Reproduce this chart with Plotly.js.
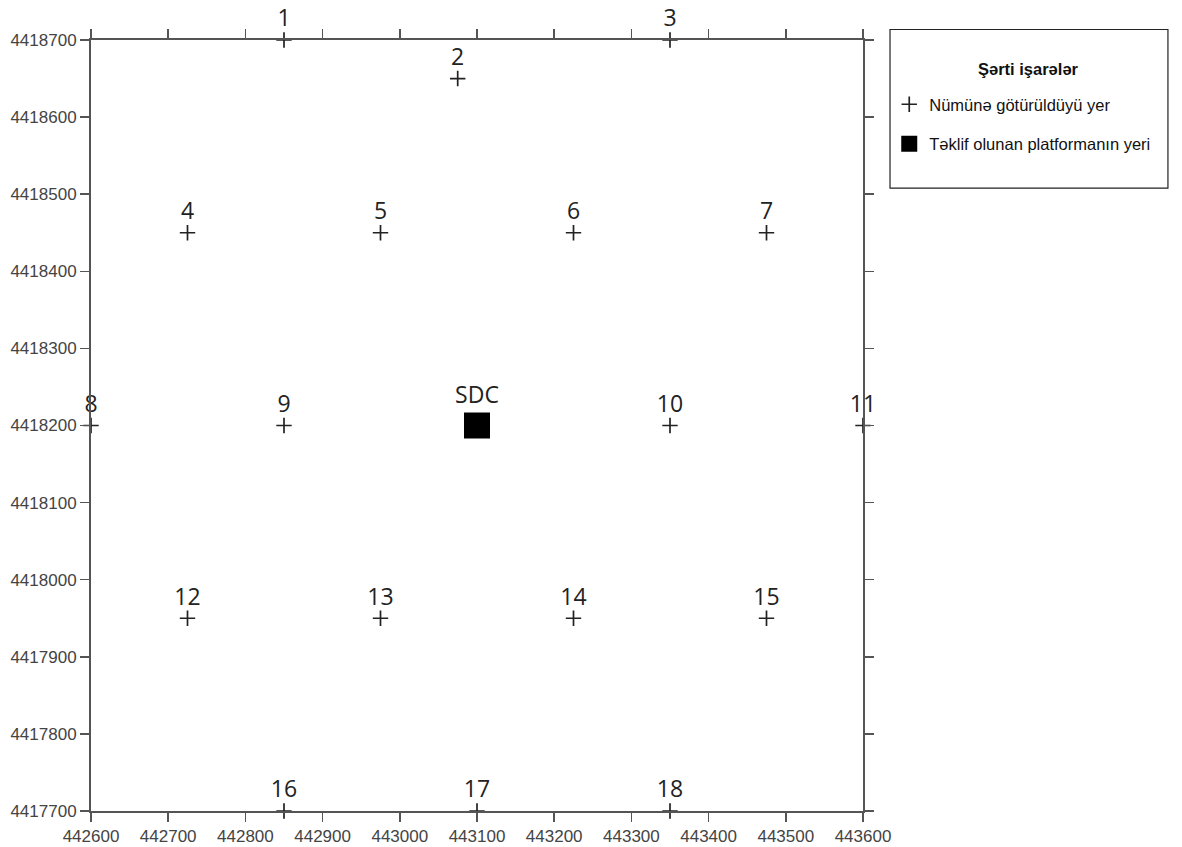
<!DOCTYPE html>
<html>
<head>
<meta charset="utf-8">
<script src="https://cdn.plot.ly/plotly-3.0.1.min.js"></script>
<style>body{margin:0;background:#fff}#chart{width:1182px;height:847px}</style>
</head>
<body>
<div id="chart"></div>
<script>
// Sampling points
const pointLabels = ["1","2","3","4","5","6","7","8","9","10","11","12","13","14","15","16","17","18"];
const pointX = [442850,443075,443350,442725,442975,443225,443475,442600,442850,443350,443600,442725,442975,443225,443475,442850,443100,443350];
const pointY = [4418700,4418650,4418700,4418450,4418450,4418450,4418450,4418200,4418200,4418200,4418200,4417950,4417950,4417950,4417950,4417700,4417700,4417700];
// Proposed platform
const platformLabel = ["SDC"];
const platformX = [443100];
const platformY = [4418200];
const legendTitle = "Şərti işarələr";
const legendSample = "Nümünə götürüldüyü yer";
const legendPlatform = "Təklif olunan platformanın yeri";

const labelFont = {family: "Open Sans, DejaVu Sans, sans-serif", size: 23, color: "#222"};
const traces = [
  {
    type: "scatter", mode: "markers+text",
    x: pointX, y: pointY, text: pointLabels,
    textposition: "top center", textfont: labelFont,
    marker: {symbol: "cross-thin", size: 11, line: {width: 1.7, color: "#222"}, color: "#222"},
    cliponaxis: false, legendgroup: "a",
    name: legendSample, hoverinfo: "x+y+text"
  },
  {
    type: "scatter", mode: "markers+text",
    x: platformX, y: platformY, text: platformLabel,
    textposition: "top center", textfont: labelFont,
    marker: {symbol: "square", size: 26, color: "#000"},
    cliponaxis: false, legendgroup: "b",
    name: legendPlatform, hoverinfo: "x+y+text"
  }
];

const axisCommon = {
  showline: true, linecolor: "#555", linewidth: 2, mirror: "ticks",
  ticks: "outside", ticklen: 9, tickwidth: 1.5, tickcolor: "#555",
  showgrid: false, zeroline: false, dtick: 100, tickformat: "d",
  tickfont: {family: "Liberation Sans, Arial, sans-serif", size: 17, color: "#444"}
};

const legendFont = {family: "Liberation Sans, Arial, sans-serif", size: 16.5, color: "#111"};
const layout = {
  width: 1182, height: 847,
  margin: {l: 91, r: 319, t: 40, b: 36},
  paper_bgcolor: "#fff", plot_bgcolor: "#fff",
  xaxis: Object.assign({}, axisCommon, {range: [442600, 443600], tick0: 442600}),
  yaxis: Object.assign({}, axisCommon, {range: [4417700, 4418700], tick0: 4417700, ticklabelstandoff: 0}),
  showlegend: true,
  legend: {
    x: 1.034, y: 0.939, xanchor: "left", yanchor: "top",
    bgcolor: "rgba(0,0,0,0)", borderwidth: 0,
    itemwidth: 30, tracegroupgap: 15, traceorder: "grouped",
    font: legendFont
  },
  annotations: [
    {xref: "paper", yref: "paper", x: 1.215, y: 0.962, xanchor: "center", yanchor: "middle",
     text: "<b>" + legendTitle + "</b>", showarrow: false, font: legendFont}
  ],
  shapes: [
    {type: "rect", xref: "paper", yref: "paper",
     x0: 1.035, x1: 1.395, y0: 0.808, y1: 1.0136,
     line: {color: "#222", width: 1.2}, fillcolor: "rgba(0,0,0,0)"}
  ]
};

Plotly.newPlot("chart", traces, layout, {displayModeBar: false, staticPlot: true});
</script>
</body>
</html>
